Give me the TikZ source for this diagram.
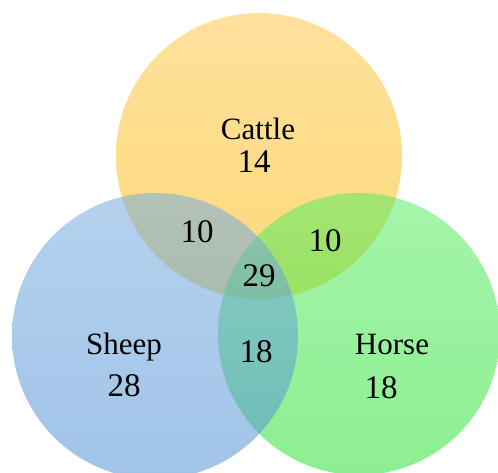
\documentclass[tikz,border=0pt]{standalone}
\usepackage{fontspec}
\setmainfont{Liberation Serif}
\definecolor{cattleT}{RGB}{253,200,75}
\definecolor{cattleB}{RGB}{250,186,10}
\definecolor{sheepT}{RGB}{119,173,224}
\definecolor{sheepB}{RGB}{82,146,210}
\definecolor{horseT}{RGB}{91,237,100}
\definecolor{horseB}{RGB}{46,224,55}
\tikzset{
  setcircle/.style={fill opacity=0.55, draw=none},
  lbl/.style={font=\fontsize{31}{34}\selectfont, text=black, inner sep=0pt},
  num/.style={font=\fontsize{33}{36}\selectfont, text=black, inner sep=0pt}
}
\begin{document}
\begin{tikzpicture}[x=1pt,y=-1pt]
\useasboundingbox (0,0) rectangle (498,472);
\begin{scope}
\clip (0,0) rectangle (498,472);
\shade[setcircle, top color=cattleT, bottom color=cattleB] (259,156) circle (143);
\shade[setcircle, top color=horseT, bottom color=horseB] (359,334) circle (141);
\shade[setcircle, top color=sheepT, bottom color=sheepB] (155,336) circle (143);
\end{scope}
\node[lbl] (cattle) at (258,129) {Cattle};
\node[num] (c14) at (254,162) {14};
\node[num] (cs10) at (197,232) {10};
\node[num] (ch10) at (325,241) {10};
\node[num] (all29) at (259,276) {29};
\node[lbl] (sheep) at (124,347) {Sheep};
\node[num] (s28) at (124,386) {28};
\node[num] (sh18) at (256,352) {18};
\node[lbl] (horse) at (392,344) {Horse};
\node[num] (h18) at (381,388) {18};
\end{tikzpicture}
\end{document}
